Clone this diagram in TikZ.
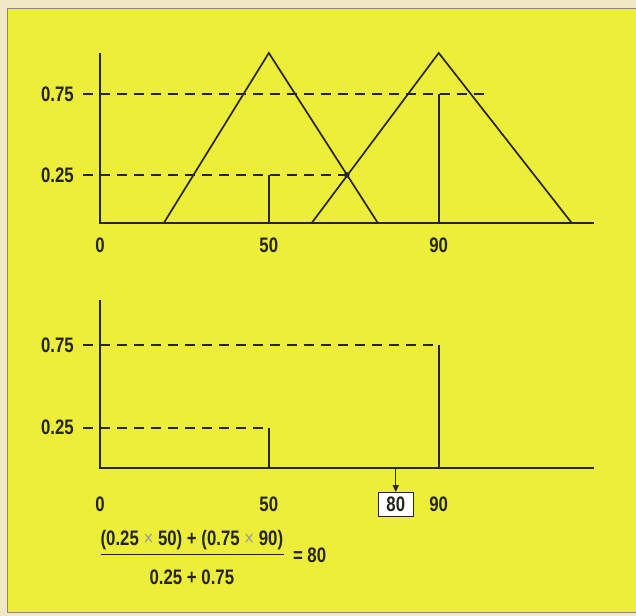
\documentclass[tikz,border=0pt]{standalone}
\usepackage{fontspec}
\setmainfont{Liberation Sans}[FakeStretch=0.8]
\usetikzlibrary{arrows.meta}
\definecolor{panel}{RGB}{236,238,58}
\definecolor{paper}{RGB}{243,232,198}
\definecolor{ink}{RGB}{38,38,28}

\begin{document}
\begin{tikzpicture}[x=1pt, y=-1pt,
  font=\bfseries\fontsize{21}{24}\selectfont,
  ln/.style={draw=ink, line width=1.7pt},
  guide/.style={ln, dash pattern=on 10pt off 7pt},
  lbl/.style={text=ink, inner sep=0pt},
  result/.style={lbl, draw=ink, fill=white, line width=1.4pt, minimum width=35pt, minimum height=24pt},
  arr/.style={ln, line width=1.4pt, -{Triangle[length=7pt, width=6pt]}},
]
% ---------------- page and panel ----------------
\fill[paper] (0,0) rectangle (636,616);
\fill[panel] (7,8) rectangle (636,613);
\draw[ink!55, line width=0.8pt] (636,8) -- (7,8) -- (7,613) -- (636,613);
% ---------------- upper graph: two fuzzy sets ----------------
\draw[ln] (100,53) -- (100,223) -- (594,223);
\draw[ln] (164,223) -- (269,53) -- (378,223);
\draw[ln] (312,223) -- (439,53) -- (572,223);
\draw[guide] (83,94) -- (487,94);
\draw[guide] (83,175) -- (350,175);
\draw[ln] (269,175) -- (269,223);
\draw[ln] (439,94) -- (439,223);
\fill[ink] (347,175) circle (2.8pt);
\node[lbl, anchor=east] (up75) at (74,94) {0.75};
\node[lbl, anchor=east] (up25) at (74,175) {0.25};
\node[lbl] (up0) at (100,245) {0};
\node[lbl] (up50) at (269,245) {50};
\node[lbl] (up90) at (439,245) {90};
% ---------------- lower graph: centre of gravity ----------------
\draw[ln] (100,300) -- (100,468) -- (594,468);
\draw[guide] (83,345) -- (439,345);
\draw[guide] (83,428) -- (269,428);
\draw[ln] (269,428) -- (269,468);
\draw[ln] (439,345) -- (439,468);
\node[lbl, anchor=east] (lo75) at (74,345) {0.75};
\node[lbl, anchor=east] (lo25) at (74,428) {0.25};
\node[lbl] (lo0) at (100,505) {0};
\node[lbl] (lo50) at (269,505) {50};
\node[result] (lo80) at (396,505) {80};
\node[lbl] (lo90) at (439,505) {90};
\coordinate (cog) at (396,468);
\draw[arr] (cog) -- (lo80.north);
% ---------------- weighted average ----------------
\node[lbl] (num) at (192,540) {(0.25 {\mdseries\color{ink!45}×} 50) + (0.75 {\mdseries\color{ink!45}×} 90)};
\node[lbl] (den) at (192,578) {0.25 + 0.75};
\draw[ln, line width=1.4pt] (101,555) -- (284,555);
\node[lbl, anchor=west] (res) at (293,556) {= 80};
\end{tikzpicture}
\end{document}
